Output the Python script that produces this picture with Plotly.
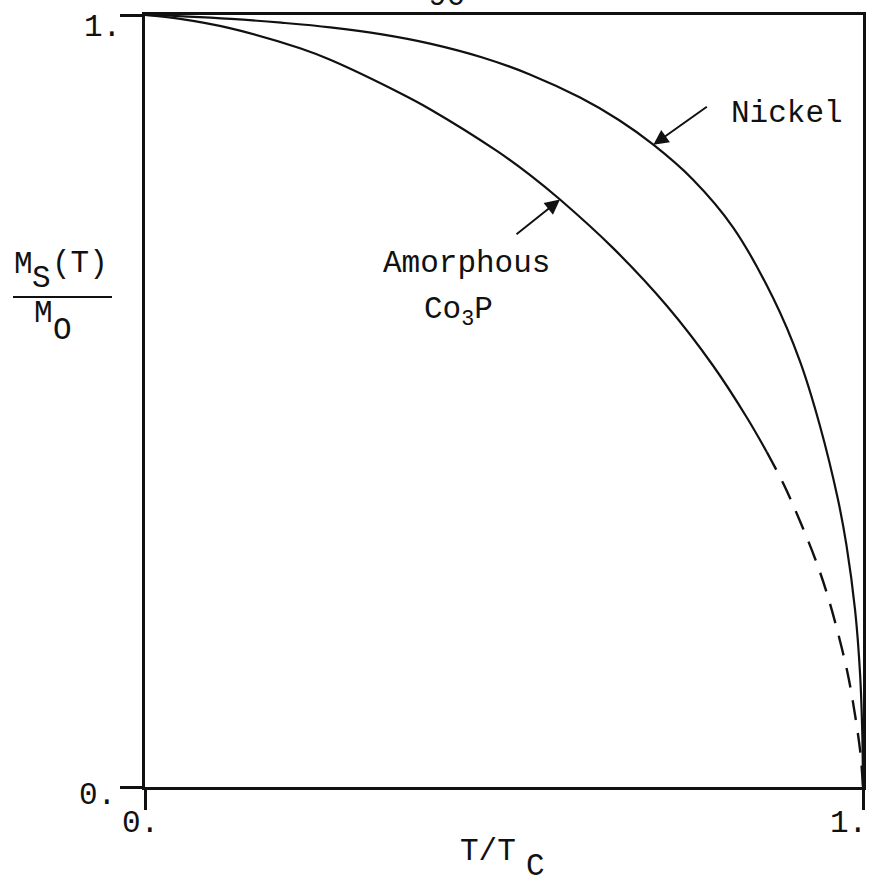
import plotly.graph_objects as go

# Reduced temperature T/Tc and reduced magnetisation Ms(T)/M0
nickel_t = [0.0, 0.06, 0.12, 0.19, 0.258, 0.33, 0.397, 0.47, 0.536, 0.606,
            0.66, 0.708, 0.763, 0.819, 0.875, 0.912, 0.94, 0.965, 0.977,
            0.989, 0.996, 0.999, 1.0]
nickel_m = [1.0, 0.998, 0.995, 0.99, 0.984, 0.975, 0.963, 0.945, 0.923, 0.893,
            0.864, 0.832, 0.787, 0.725, 0.633, 0.552, 0.468, 0.373, 0.313,
            0.229, 0.145, 0.07, 0.0]

amorph_t = [0.0, 0.049, 0.118, 0.216, 0.258, 0.355, 0.397, 0.49, 0.536, 0.578,
            0.652, 0.727, 0.791, 0.838, 0.866]
amorph_m = [1.0, 0.995, 0.983, 0.957, 0.942, 0.899, 0.878, 0.824, 0.793, 0.761,
            0.698, 0.623, 0.546, 0.479, 0.434]

# extrapolated part of the amorphous curve (dashed)
amorph_ext_t = [0.866, 0.889, 0.912, 0.936, 0.951, 0.965, 0.978, 0.986, 0.996, 1.0]
amorph_ext_m = [0.434, 0.393, 0.345, 0.289, 0.247, 0.2, 0.15, 0.11, 0.047, 0.0]

tick_vals = [0, 1]
tick_text = ["0.", "1."]

W, H = 879, 887
FONT = "Liberation Mono, DejaVu Sans Mono, monospace"
INK = "#111111"


def px(x):
    return x / W


def py(y):
    return 1 - y / H


fig = go.Figure()
line_style = dict(color=INK, width=2.2, shape="spline", smoothing=1.0)
fig.add_trace(go.Scatter(x=nickel_t, y=nickel_m, mode="lines", line=line_style))
fig.add_trace(go.Scatter(x=amorph_t, y=amorph_m, mode="lines", line=line_style))
fig.add_trace(go.Scatter(x=amorph_ext_t, y=amorph_ext_m, mode="lines",
                         line=dict(color=INK, width=2.4, dash="20px,13px",
                                   shape="spline", smoothing=1.0)))

ann = []
# curve labels with pointer arrows
ann.append(dict(x=nickel_t[11], y=nickel_m[11], xref="x", yref="y", text="",
                showarrow=True, ax=55, ay=-39, arrowhead=2, arrowsize=1.5,
                arrowwidth=2, arrowcolor=INK, standoff=0))
ann.append(dict(x=amorph_t[9], y=amorph_m[9], xref="x", yref="y", text="",
                showarrow=True, ax=-45, ay=36, arrowhead=2, arrowsize=1.5,
                arrowwidth=2, arrowcolor=INK, standoff=0))


def label(text, x, y, size=31):
    ann.append(dict(x=px(x), y=py(y), xref="paper", yref="paper", text=text,
                    showarrow=False, xanchor="center", yanchor="middle",
                    font=dict(family=FONT, size=size, color=INK)))


label("Nickel", 787, 113)
label("Amorphous", 466, 263)
label("Co<sub>3</sub>P", 458, 312)

# tick labels
label(tick_text[1], 102, 28)
label(tick_text[0], 97, 795)
label(tick_text[0], 140, 823)
label(tick_text[1], 848, 823)

# axis titles
label("T/T", 488, 851)
label("C", 535, 866)
label("M", 23, 264)
label("S", 41, 279)
label("(T)", 80, 263)
label("M", 43, 313)
label("O", 62, 330)

# page number at the top edge
label("- 90 -", 447, -4)

fig.update_layout(
    width=W, height=H,
    margin=dict(l=0, r=0, t=0, b=0),
    paper_bgcolor="white", plot_bgcolor="white",
    showlegend=False, hovermode=False,
    annotations=ann,
    shapes=[dict(type="line", xref="paper", yref="paper",
                 x0=px(13), x1=px(112), y0=py(297), y1=py(297),
                 line=dict(color=INK, width=2))],
    xaxis=dict(domain=[px(145), px(863)], range=[0, 1], showgrid=False,
               zeroline=False, showline=True, mirror=True, linecolor=INK,
               linewidth=2.5, ticks="outside", tickvals=tick_vals,
               ticklen=20, tickwidth=2.5, tickcolor=INK,
               showticklabels=False, fixedrange=True),
    yaxis=dict(domain=[py(787), py(15)], range=[0, 1], showgrid=False,
               zeroline=False, showline=True, mirror=True, linecolor=INK,
               linewidth=2.5, ticks="outside", tickvals=tick_vals,
               ticklen=22, tickwidth=2.5, tickcolor=INK,
               showticklabels=False, fixedrange=True),
)

fig.write_html("out.html", config={"displayModeBar": False})
